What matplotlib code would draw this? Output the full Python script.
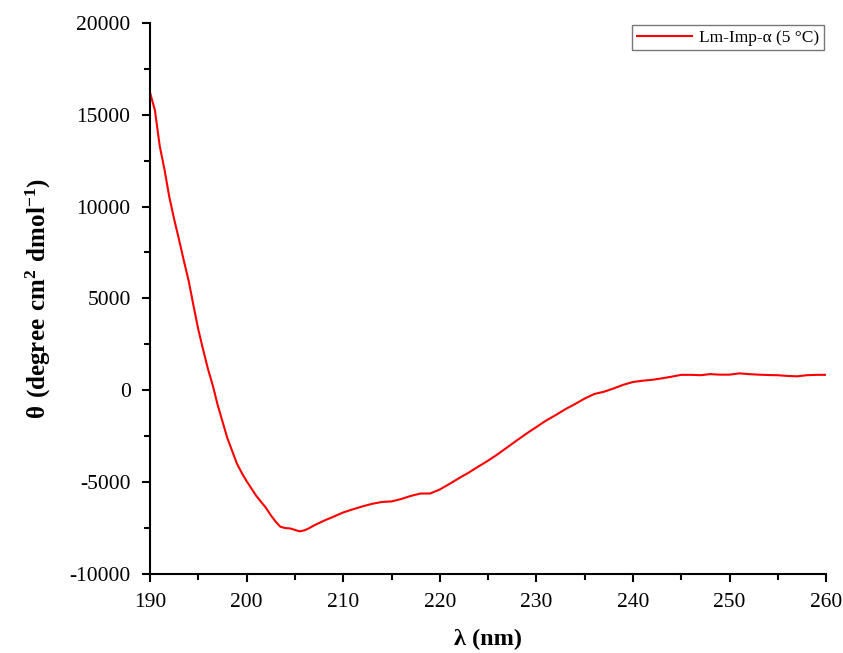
import numpy as np
import matplotlib.pyplot as plt
from matplotlib.ticker import MultipleLocator, AutoMinorLocator

plt.rcParams['font.family'] = ['Liberation Serif', 'DejaVu Serif']
plt.rcParams['mathtext.fontset'] = 'custom'
plt.rcParams['mathtext.rm'] = 'Liberation Serif'
plt.rcParams['mathtext.bf'] = 'Liberation Serif:bold'
plt.rcParams['axes.unicode_minus'] = False

# wavelength (nm) and mean residue ellipticity
wavelength = [190, 190.5, 191, 191.5, 192, 192.5, 193, 193.5, 194, 194.5,
              195, 195.5, 196, 196.5, 197, 197.5, 198, 198.5, 199, 199.5,
              200, 201, 202, 202.5, 203, 203.5, 204, 204.5, 205, 205.5,
              206, 206.5, 207, 208, 209, 210, 211, 212, 213, 214,
              215, 216, 217, 218, 219, 220, 221, 222, 223, 224,
              225, 226, 227, 228, 229, 230, 231, 232, 233, 234,
              235, 236, 237, 238, 239, 240, 241, 242, 243, 244,
              245, 246, 247, 248, 249, 250, 251, 252, 253, 254,
              255, 256, 257, 258, 259, 260]
theta = [16200, 15250, 13300, 12000, 10500, 9300, 8200, 7050, 5950, 4600,
         3300, 2200, 1150, 250, -800, -1700, -2600, -3300, -4000, -4500,
         -4950, -5750, -6400, -6800, -7150, -7430, -7500, -7520, -7600, -7680,
         -7620, -7500, -7350, -7100, -6880, -6650, -6480, -6320, -6180, -6080,
         -6050, -5920, -5750, -5620, -5620, -5400, -5100, -4780, -4480, -4150,
         -3830, -3480, -3100, -2720, -2350, -2000, -1650, -1350, -1030, -750,
         -450, -200, -80, 100, 300, 450, 520, 570, 650, 740,
         840, 840, 820, 880, 850, 850, 920, 880, 850, 830,
         820, 780, 760, 820, 840, 840]

fig, ax = plt.subplots(figsize=(8.43, 6.53), dpi=100)
fig.subplots_adjust(left=0.178, right=0.980, top=0.965, bottom=0.121)

ax.plot(wavelength, theta, color='#ff0000', lw=1.5, label='Lm-Imp-\u03b1 (5 \u00b0C)')

ax.set_xlim(190, 260)
ax.set_ylim(-10000, 20000)
ax.xaxis.set_major_locator(MultipleLocator(10))
ax.yaxis.set_major_locator(MultipleLocator(5000))
ax.xaxis.set_minor_locator(AutoMinorLocator(2))
ax.yaxis.set_minor_locator(AutoMinorLocator(2))

for side in ['top', 'right']:
    ax.spines[side].set_visible(False)
for side in ['left', 'bottom']:
    ax.spines[side].set_linewidth(1.5)

ax.tick_params(which='major', direction='out', length=6, width=1.5, labelsize=15.5)
ax.tick_params(axis='x', which='major', pad=8)
ax.tick_params(axis='y', which='major', pad=8)
ax.tick_params(which='minor', direction='out', length=4, width=1.5)

ax.set_xlabel('\u03bb (nm)', fontsize=17.5, fontweight='bold', labelpad=12)
ax.set_ylabel(r'$\mathbf{\theta\ (degree\ cm^{2}\ dmol^{-1})}$', fontsize=18, labelpad=12)

leg = ax.legend(loc='upper right', fontsize=12.5, frameon=True, fancybox=False,
                edgecolor='#555555', handlelength=3.2, borderpad=0.25,
                borderaxespad=0.15, handletextpad=0.4)
leg.get_frame().set_linewidth(1.0)

fig.savefig('out.png', dpi=100)
